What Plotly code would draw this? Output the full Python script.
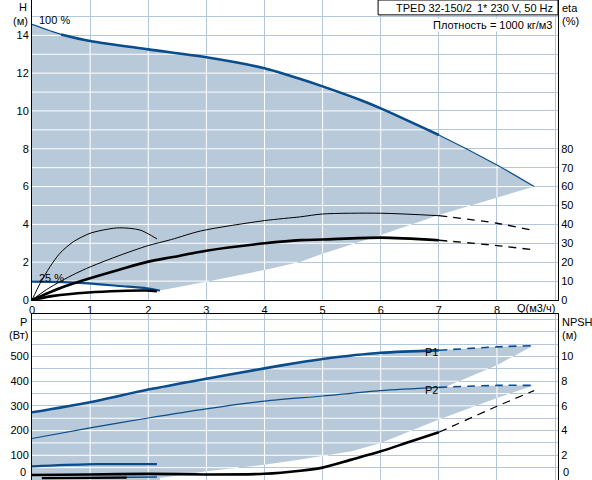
import plotly.graph_objects as go

# upper chart: head H (m) and efficiency eta (%) against flow Q (m3/h)
q_h100 = [0, 0.5, 1, 2, 3, 4, 4.62, 5, 5.65, 6, 7, 8, 8.64]
h_100 = [14.58, 14.05, 13.7, 13.26, 12.84, 12.26, 11.69, 11.3, 10.58, 10.14, 8.73, 7.14, 6.0]
q_h25 = [0, 0.54, 0.97, 1.51, 1.97, 2.2]
h_25 = [0.97, 0.95, 0.88, 0.74, 0.62, 0.5]
q_hmin = [2.2, 3, 4, 4.62, 5, 6, 7, 8, 8.64]
h_min = [0.5, 0.97, 1.59, 2.03, 2.45, 3.44, 4.5, 5.43, 6.0]

q_eta1 = [0, 0.25, 0.5, 0.75, 1, 1.5, 2, 2.4, 2.9, 4, 4.62, 5, 6, 7]
eta1 = [0, 5.5, 10, 14, 17.5, 23.5, 28.8, 32, 36.5, 42, 44, 45.5, 45.9, 44.6]
q_eta1_dash = [7, 8, 8.64]
eta1_dash = [44.6, 40.6, 36.7]
q_eta2 = [0, 0.5, 1, 1.5, 2, 2.4, 3, 4, 4.62, 5, 6, 7]
eta2 = [0, 6.5, 11.5, 16, 20.3, 22.6, 26.1, 30, 31.7, 32, 33, 31.6]
q_eta2_dash = [7, 8, 8.64]
eta2_dash = [31.6, 28.8, 26.5]
q_eta1_25 = [0, 0.14, 0.31, 0.48, 0.71, 1.0, 1.29, 1.51, 1.86, 2.15]
eta1_25 = [0, 8.8, 17.6, 24.7, 30.8, 35.3, 37.4, 38.2, 37, 32.3]
q_eta2_25 = [0, 0.37, 0.97, 1.51, 1.97, 2.15]
eta2_25 = [0, 2.2, 4.0, 4.8, 5.0, 4.6]

# lower chart: power P (W) and NPSH (m)
q_p1 = [0, 1, 2, 3, 4, 4.62, 5, 6, 7]
p1 = [274, 315, 366, 410, 452, 477, 490, 515, 525]
q_p1_dash = [7, 8, 8.62]
p1_dash = [525, 539, 544]
q_p2 = [0, 1, 2, 3, 4, 5, 6, 7]
p2 = [168, 211, 251, 288, 319, 340, 362, 375]
q_p2_dash = [7, 8, 8.62]
p2_dash = [375, 383, 383]
q_p1_25 = [0, 0.17, 1.11, 2.15]
p1_25 = [55, 57, 64, 64]
q_p2_25 = [0.17, 1.2, 2.15]
p2_25 = [8, 10, 12]
q_pcut = [8.62, 8, 7.1]
p_cut = [544, 465, 376]
q_pmin = [8.62, 8, 7.5, 7, 6.5, 6, 5.5, 5, 4.62, 4, 3, 2.2, 2.2, 0]
p_min = [383, 332, 289, 245, 197, 150, 116, 96, 83, 62, 35, 8, 0, 0]

q_npsh = [0, 1, 2, 3, 4, 4.62, 5, 5.5, 6, 6.5, 7]
npsh = [0.4, 0.45, 0.5, 0.45, 0.5, 0.75, 1.0, 1.65, 2.32, 3.1, 3.86]
q_npsh_dash = [7, 8, 8.64]
npsh_dash = [3.86, 5.97, 7.24]
q_npsh_25 = [0.17, 1.0, 1.63]
npsh_25 = [0.15, 0.17, 0.2]

x_ticks = list(range(0, 10))
h_ticks = list(range(0, 16))
eta_ticks = list(range(0, 90, 10))
p_ticks = list(range(0, 700, 50))
npsh_ticks = list(range(0, 12, 2))

BLUE = "#0a4d8c"
FILL = "#b8c9d9"
GRID = "#b4c6dc"
FONT = "Liberation Sans, Arial, sans-serif"


def white_grid(px, py, xs, ys):
    # grid segments that fall inside the shaded polygon
    n = len(px)
    edges = [(px[i], py[i], px[(i + 1) % n], py[(i + 1) % n]) for i in range(n)]
    sx, sy = [], []
    for v in xs:
        hits = sorted(y1 + (v - x1) * (y2 - y1) / (x2 - x1)
                      for x1, y1, x2, y2 in edges if min(x1, x2) <= v < max(x1, x2))
        for a, b in zip(hits[::2], hits[1::2]):
            sx += [v, v, None]
            sy += [a, b, None]
    for h in ys:
        hits = sorted(x1 + (h - y1) * (x2 - x1) / (y2 - y1)
                      for x1, y1, x2, y2 in edges if min(y1, y2) <= h < max(y1, y2))
        for a, b in zip(hits[::2], hits[1::2]):
            sx += [a, b, None]
            sy += [h, h, None]
    return sx, sy


def line(fig, x, y, color, width, xa, ya, dash=None, shape="spline"):
    fig.add_trace(go.Scatter(x=x, y=y, mode="lines", xaxis=xa, yaxis=ya,
                             line=dict(color=color, width=width, dash=dash, shape=shape,
                                       smoothing=0.8),
                             hoverinfo="skip"))


fig = go.Figure()

# upper shaded area
top_x = q_h100 + q_hmin[::-1] + q_h25[::-1]
top_y = h_100 + h_min[::-1] + h_25[::-1]
fig.add_trace(go.Scatter(x=top_x, y=top_y, fill="toself", fillcolor=FILL, mode="lines",
                         line=dict(width=0), xaxis="x", yaxis="y", hoverinfo="skip"))
gx, gy = white_grid(top_x, top_y, x_ticks[1:], h_ticks[1:])
line(fig, gx, gy, "white", 1, "x", "y", shape="linear")
line(fig, q_h100, h_100, BLUE, 1.2, "x", "y")
line(fig, q_h100[1:11], h_100[1:11], BLUE, 2.6, "x", "y")
line(fig, q_h25, h_25, BLUE, 2.2, "x", "y")

line(fig, q_eta1, eta1, "black", 1, "x", "y2")
line(fig, q_eta1_dash, eta1_dash, "black", 1.3, "x", "y2", "8px,6px")
line(fig, q_eta2, eta2, "black", 2.6, "x", "y2")
line(fig, q_eta2_dash, eta2_dash, "black", 1.3, "x", "y2", "8px,6px")
line(fig, q_eta1_25, eta1_25, "black", 1, "x", "y2")
line(fig, q_eta2_25, eta2_25, "black", 2.6, "x", "y2")

# lower shaded area
bot_x = q_p1 + q_p1_dash[1:] + q_pcut[1:] + [7.1] + q_p2_dash[1:] + q_pmin
bot_y = p1 + p1_dash[1:] + p_cut[1:] + [p_cut[-1]] + p2_dash[1:] + p_min
fig.add_trace(go.Scatter(x=bot_x, y=bot_y, fill="toself", fillcolor=FILL, mode="lines",
                         line=dict(width=0), xaxis="x2", yaxis="y3", hoverinfo="skip"))
gx, gy = white_grid(bot_x, bot_y, x_ticks[1:], p_ticks[1:])
line(fig, gx, gy, "white", 1, "x2", "y3", shape="linear")
line(fig, q_p1, p1, BLUE, 2.6, "x2", "y3")
line(fig, q_p1_dash, p1_dash, BLUE, 1.6, "x2", "y3", "8px,6px")
line(fig, q_p2, p2, BLUE, 1.2, "x2", "y3")
line(fig, q_p2_dash, p2_dash, BLUE, 1.6, "x2", "y3", "8px,6px")
line(fig, q_p1_25, p1_25, BLUE, 2.2, "x2", "y3")
line(fig, q_p2_25, p2_25, BLUE, 1.4, "x2", "y3")

line(fig, q_npsh, npsh, "black", 2.6, "x2", "y4")
line(fig, q_npsh_dash, npsh_dash, "black", 1.2, "x2", "y4", "8px,6px")
line(fig, q_npsh_25, npsh_25, "black", 2.2, "x2", "y4")

axis = dict(showline=True, linecolor="black", linewidth=1, ticks="",
            gridcolor=GRID, gridwidth=1, zeroline=False,
            tickfont=dict(family=FONT, size=11, color="black"))

fig.update_layout(
    width=592, height=486,
    margin=dict(l=32, r=34, t=0, b=0),
    paper_bgcolor="white", plot_bgcolor="white",
    showlegend=False, hovermode=False,
    font=dict(family=FONT, size=11, color="black"),
    xaxis=dict(axis, domain=[0, 1], anchor="y", range=[0, 9.05], tickvals=x_ticks,
               ticktext=[str(v) for v in x_ticks[:-1]] + [""]),
    yaxis=dict(axis, domain=[0.375, 1], anchor="x", range=[0, 15.87], tickvals=h_ticks,
               ticktext=[str(v) if v % 2 == 0 else "" for v in h_ticks]),
    yaxis2=dict(axis, overlaying="y", side="right", anchor="x", range=[0, 158.7],
                tickvals=eta_ticks, showgrid=False),
    xaxis2=dict(axis, domain=[0, 1], anchor="y3", range=[0, 9.05], tickvals=x_ticks,
                showticklabels=False, mirror=True),
    yaxis3=dict(axis, domain=[0, 0.3458], anchor="x2", range=[0, 672], tickvals=p_ticks,
                ticktext=[str(v) if v % 100 == 0 and 0 < v <= 500 else "" for v in p_ticks]),
    yaxis4=dict(axis, overlaying="y3", side="right", anchor="x2", range=[0, 13.44],
                tickvals=npsh_ticks, ticktext=[""] + [str(v) for v in npsh_ticks[1:]],
                showgrid=False),
)

fig.add_shape(type="rect", xref="paper", yref="paper", x0=0.658, x1=1.0, y0=0.969, y1=1.0,
              line=dict(color="black", width=1), fillcolor="white", layer="above")


def note(text, x, y, xanchor="left", xref="paper", yref="paper", bg=None, size=11):
    fig.add_annotation(text=text, x=x, y=y, xref=xref, yref=yref, xanchor=xanchor,
                       yanchor="middle", showarrow=False, bgcolor=bg, borderpad=0,
                       font=dict(family=FONT, size=size, color="black"))


note("TPED 32-150/2", 0.69, 0.983, size=11)
note("1* 230 V, 50 Hz", 0.992, 0.983, "right", size=11)
note("Плотность = 1000 кг/м3", 0.99, 0.948, "right", bg="white")
note("H", -0.008, 0.985, "right")
note("(м)", -0.006, 0.957, "right")
note("eta", 1.006, 0.983)
note("(%)", 1.006, 0.957)
note("P", -0.008, 0.330, "right")
note("(Вт)", -0.006, 0.302, "right")
note("NPSH", 1.006, 0.330)
note("(м)", 1.006, 0.302)
note("Q(м3/ч)", 0.996, 0.358, "right")
note("0", -0.01, 0.016, "right")
note("0", 1.008, 0.016)
note("100 %", 0.1, 14.8, xref="x", yref="y")
note("25 %", 0.34, 1.18, "center", xref="x", yref="y")
note("P1", 6.87, 520, "center", xref="x2", yref="y3")
note("P2", 6.87, 366, "center", xref="x2", yref="y3")

fig.write_html("out.html", config={"displayModeBar": False},
               post_script="document.body.style.margin = '0';")
